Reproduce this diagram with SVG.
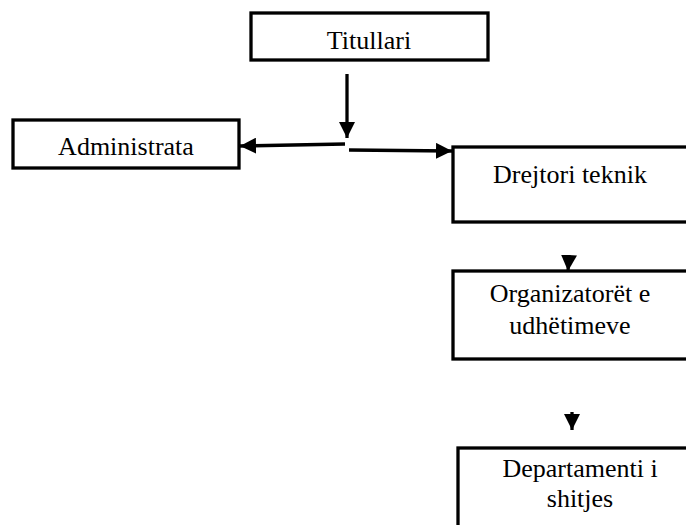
<svg xmlns="http://www.w3.org/2000/svg" width="686" height="525" viewBox="0 0 686 525">
  <style>
    .box { fill: #ffffff; stroke: #000000; stroke-width: 3.3; }
    .lbl { font-family: "Liberation Serif", "Times New Roman", serif; font-size: 26px; fill: #000000; text-anchor: middle; }
    .link { stroke: #000000; stroke-width: 3.3; fill: none; }
    .head { fill: #000000; stroke: none; }
  </style>
  <defs>
    <marker id="arrow" viewBox="0 0 16 16" refX="16" refY="8" markerWidth="16" markerHeight="16" markerUnits="userSpaceOnUse" orient="auto">
      <path d="M0,0 L16,8 L0,16 Z" class="head"/>
    </marker>
  </defs>

  <rect width="686" height="525" fill="#ffffff"/>

  <g id="titullari">
    <rect class="box" x="251" y="13" width="237" height="47"/>
    <text class="lbl" x="369" y="49">Titullari</text>
  </g>

  <g id="administrata">
    <rect class="box" x="13" y="120" width="226" height="48"/>
    <text class="lbl" x="126" y="155">Administrata</text>
  </g>

  <g id="drejtori-teknik">
    <rect class="box" x="453" y="147" width="240" height="75"/>
    <text class="lbl" x="570" y="183">Drejtori teknik</text>
  </g>

  <g id="organizatoret">
    <rect class="box" x="453" y="271" width="240" height="88"/>
    <text class="lbl" x="570" y="302">Organizatorët e</text>
    <text class="lbl" x="570" y="334">udhëtimeve</text>
  </g>

  <g id="departamenti">
    <rect class="box" x="458" y="448" width="240" height="90"/>
    <text class="lbl" x="580" y="477">Departamenti i</text>
    <text class="lbl" x="580" y="507">shitjes</text>
  </g>

  <g id="connectors">
    <line class="link" x1="347" y1="74" x2="347" y2="138" marker-end="url(#arrow)"/>
    <line class="link" x1="345" y1="144" x2="240" y2="146" marker-end="url(#arrow)"/>
    <line class="link" x1="349" y1="150" x2="452" y2="151" marker-end="url(#arrow)"/>
    <line class="link" x1="569" y1="255" x2="568" y2="271" marker-end="url(#arrow)"/>
    <line class="link" x1="572" y1="412" x2="572" y2="430" marker-end="url(#arrow)"/>
  </g>
</svg>
